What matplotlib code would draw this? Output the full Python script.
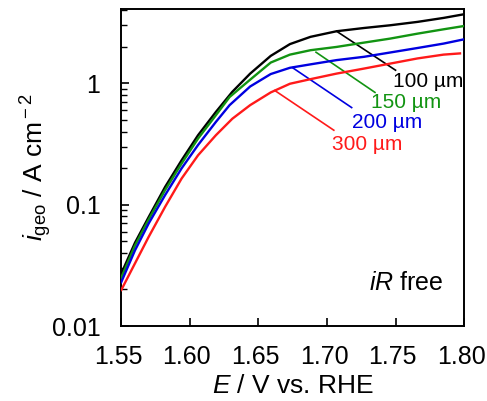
"""iR-free polarisation curves (log current density vs potential) for four thicknesses."""
import matplotlib
matplotlib.use("Agg")
import matplotlib.pyplot as plt
import matplotlib.transforms as mtrans
from matplotlib.ticker import FixedLocator, FixedFormatter, LogLocator, NullFormatter

plt.rcParams["font.family"] = ["Liberation Sans", "DejaVu Sans"]
plt.rcParams["mathtext.fontset"] = "custom"
plt.rcParams["mathtext.rm"] = "Liberation Sans"
plt.rcParams["mathtext.it"] = "Liberation Sans:italic"

# values
E_100 = [1.550, 1.560, 1.570, 1.582, 1.594, 1.606, 1.619, 1.631, 1.644, 1.659, 1.673,
         1.688, 1.707, 1.727, 1.746, 1.766, 1.785, 1.800]
i_100 = [0.027, 0.0485, 0.079, 0.140, 0.232, 0.373, 0.58, 0.85, 1.20, 1.68, 2.10,
         2.41, 2.68, 2.85, 3.00, 3.20, 3.45, 3.70]

E_150 = [1.550, 1.560, 1.570, 1.582, 1.594, 1.606, 1.619, 1.629, 1.644, 1.659, 1.673,
         1.688, 1.707, 1.727, 1.746, 1.766, 1.785, 1.800]
i_150 = [0.025, 0.046, 0.0755, 0.132, 0.218, 0.35, 0.545, 0.77, 1.07, 1.48, 1.72,
         1.87, 1.99, 2.16, 2.33, 2.56, 2.78, 2.96]

E_200 = [1.550, 1.560, 1.570, 1.582, 1.594, 1.606, 1.619, 1.629, 1.644, 1.659, 1.673,
         1.688, 1.707, 1.727, 1.746, 1.766, 1.785, 1.800]
i_200 = [0.023, 0.042, 0.070, 0.120, 0.199, 0.31, 0.48, 0.66, 0.94, 1.19, 1.34,
         1.43, 1.55, 1.65, 1.79, 1.95, 2.12, 2.30]

E_300 = [1.550, 1.560, 1.570, 1.582, 1.594, 1.606, 1.619, 1.631, 1.644, 1.659, 1.673,
         1.688, 1.707, 1.727, 1.746, 1.766, 1.785, 1.797]
i_300 = [0.0198, 0.0328, 0.0543, 0.096, 0.164, 0.255, 0.373, 0.51, 0.66, 0.84, 0.99,
         1.08, 1.20, 1.32, 1.45, 1.60, 1.72, 1.76]

labels = ["100 µm", "150 µm", "200 µm", "300 µm"]
colors = ["black", "#129412", "#0000e0", "#ff1a1a"]
# leader lines: (curve point) -> (label end), and label anchor
lead_from = [(1.707, 2.68), (1.692, 1.80), (1.675, 1.34), (1.662, 0.87)]
lead_to = [(1.750, 1.28), (1.735, 0.84), (1.718, 0.63), (1.705, 0.41)]
label_pos = [(1.748, 1.03), (1.732, 0.69), (1.718, 0.475), (1.704, 0.315)]

fig = plt.figure(figsize=(4.87, 4.01), dpi=100)
ax = fig.add_axes([0.249, 0.187, 0.704, 0.791])

for E, i, c in zip([E_100, E_150, E_200, E_300], [i_100, i_150, i_200, i_300], colors):
    ax.plot(E, i, color=c, lw=1.7, zorder=3)

for (x0, y0), (x1, y1), (tx, ty), lab, c in zip(lead_from, lead_to, label_pos, labels, colors):
    ax.plot([x0, x1], [y0, y1], color=c, lw=1.2, zorder=2)
    ax.text(tx, ty, lab, color=c, fontsize=15, ha="left", va="center")

ax.text(1.785, 0.0224, r"$\it{iR}$ free", fontsize=18, ha="right", va="center")

ax.set_yscale("log")
ax.set_xlim(1.55, 1.80)
ax.set_ylim(0.01, 4.1)
ax.set_xticks([1.55, 1.60, 1.65, 1.70, 1.75, 1.80])
ax.set_xticklabels(["1.55", "1.60", "1.65", "1.70", "1.75", "1.80"])
ax.yaxis.set_major_locator(FixedLocator([0.01, 0.1, 1]))
ax.yaxis.set_major_formatter(FixedFormatter(["0.01", "0.1", "1"]))
ax.yaxis.set_minor_locator(LogLocator(base=10, subs=range(2, 10)))
ax.yaxis.set_minor_formatter(NullFormatter())

ax.tick_params(axis="both", which="major", direction="in", length=6, width=1.2,
               labelsize=18, top=False, right=False)
ax.tick_params(axis="y", which="minor", direction="in", length=4.5, width=1.0, right=False)
ax.tick_params(axis="x", pad=14)
ax.tick_params(axis="y", pad=15)
for s in ax.spines.values():
    s.set_linewidth(1.4)

# tick labels sit a few pixels left of their ticks in the original
shift = mtrans.ScaledTranslation(-3 / 100, 0, fig.dpi_scale_trans)
for lab in ax.get_xticklabels():
    lab.set_transform(lab.get_transform() + shift)

ax.set_xlabel(r"$\it{E}$ / V vs. RHE", fontsize=19, labelpad=3)
ax.set_ylabel(r"$\it{i}_{\rm geo}$ / A cm$^{\rm -2}$", fontsize=19, labelpad=-2)

fig.savefig("out.png", dpi=100)
